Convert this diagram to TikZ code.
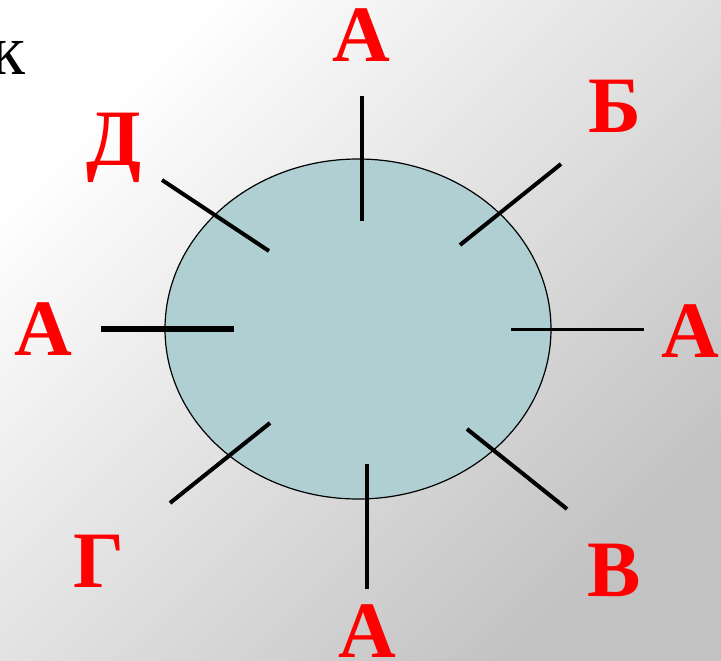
\documentclass[tikz,border=0pt]{standalone}
\usepackage{fontspec}
\setmainfont{Liberation Serif}
\usetikzlibrary{calc}
\definecolor{disc}{HTML}{AFCFD3}
\definecolor{bgdark}{HTML}{C2C2C2}

\begin{document}
\begin{tikzpicture}[x=1pt,y=-1pt,
  tick/.style={line width=4pt},
  letter/.style={text=red,font=\bfseries\fontsize{80}{80}\selectfont,inner sep=0pt}]
  % background
  \useasboundingbox (0,0) rectangle (721,661);
  \begin{scope}[yscale=-1]
    \shade[left color=white,right color=bgdark,shading angle=45] (0,0) rectangle (721,-661);
  \end{scope}
  % disc
  \draw[fill=disc,line width=1.2pt] (358,329) ellipse [x radius=193,y radius=170];
  % ticks
  \draw[tick] (362,96) -- (362,221);
  \draw[tick] (460,245) -- (561,164);
  \draw[tick,line width=3pt] (511,329) -- (644,329);
  \draw[tick] (467,429) -- (567,509);
  \draw[tick] (367,464) -- (367,589);
  \draw[tick] (270,423) -- (170,503);
  \draw[tick,line width=6pt] (101,329) -- (234,329);
  \draw[tick] (162,180) -- (269,251);
  % letters
  \node[letter] (aTop) at (361,35) {А};
  \node[letter] (bNE) at (615,106) {Б};
  \node[letter] (aRight) at (690,331) {А};
  \node[letter] (vSE) at (614,570) {В};
  \node[letter] (aBottom) at (367,631) {А};
  \node[letter] (gSW) at (99,561) {Г};
  \node[letter] (aLeft) at (43,329) {А};
  \node[letter] (dNW) at (114,148) {Д};
  \node[font=\fontsize{72}{72}\selectfont,inner sep=0pt,anchor=base west] (kTop) at (-10,75) {к};
\end{tikzpicture}
\end{document}
